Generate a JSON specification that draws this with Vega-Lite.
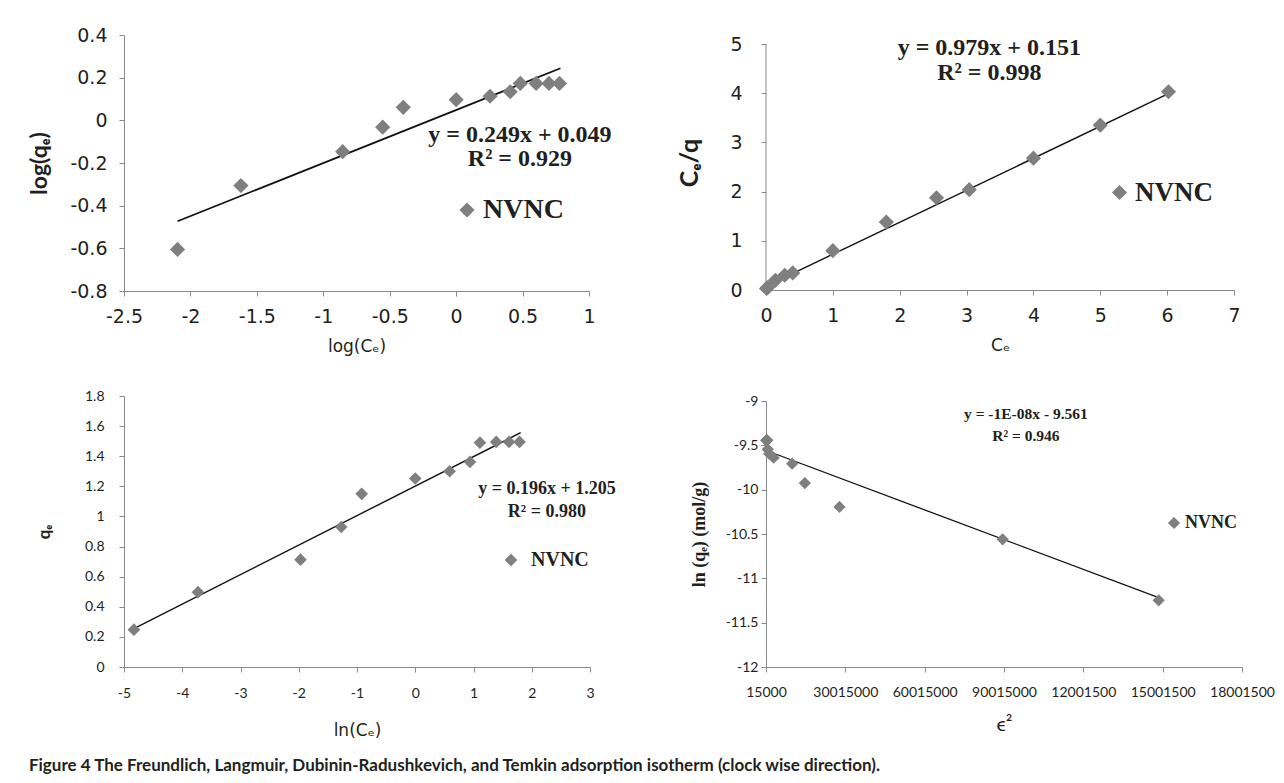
{
  "$schema": "https://vega.github.io/schema/vega-lite/v6.json",
  "background": "white",
  "padding": {"left": 28, "top": 26, "right": 5, "bottom": 5},
  "config": {
    "view": {"stroke": null},
    "axis": {"grid": false, "domainColor": "#8a8a8a", "tickColor": "#8a8a8a", "tickSize": 5, "labelColor": "#231f20", "titleColor": "#231f20", "labelFont": "Lato", "titleFont": "Lato", "labelFlush": false, "labelOverlap": false, "labelPadding": 4, "labelExpr": "'' + datum.value"},
    "legend": {"title": null, "orient": "none", "padding": 0, "symbolType": "diamond", "symbolStrokeWidth": 0, "labelFont": "Liberation Serif", "labelFontWeight": "bold", "labelColor": "#231f20", "labelOffset": 2}
  },
  "title": {"text": "Figure 4 The Freundlich, Langmuir, Dubinin-Radushkevich, and Temkin adsorption isotherm (clock wise direction).", "orient": "bottom", "anchor": "start", "frame": "bounds", "font": "Lato", "fontSize": 17, "fontWeight": "bold", "color": "#231f20", "offset": 20},
  "datasets": {
    "p1": [
      {"x": -2.097, "y": -0.605, "series": "NVNC"}, {"x": -1.62, "y": -0.306, "series": "NVNC"},
      {"x": -0.854, "y": -0.147, "series": "NVNC"}, {"x": -0.553, "y": -0.032, "series": "NVNC"},
      {"x": -0.398, "y": 0.061, "series": "NVNC"}, {"x": 0.0, "y": 0.097, "series": "NVNC"},
      {"x": 0.255, "y": 0.113, "series": "NVNC"}, {"x": 0.407, "y": 0.134, "series": "NVNC"},
      {"x": 0.483, "y": 0.173, "series": "NVNC"}, {"x": 0.602, "y": 0.173, "series": "NVNC"},
      {"x": 0.699, "y": 0.173, "series": "NVNC"}, {"x": 0.778, "y": 0.173, "series": "NVNC"}
    ],
    "p1line": [{"x": -2.097, "y": -0.473}, {"x": 0.785, "y": 0.244}],
    "p2": [
      {"x": 0.008, "y": 0.032, "series": "NVNC"}, {"x": 0.024, "y": 0.049, "series": "NVNC"},
      {"x": 0.14, "y": 0.196, "series": "NVNC"}, {"x": 0.28, "y": 0.30, "series": "NVNC"},
      {"x": 0.4, "y": 0.348, "series": "NVNC"}, {"x": 1.0, "y": 0.80, "series": "NVNC"},
      {"x": 1.8, "y": 1.38, "series": "NVNC"}, {"x": 2.55, "y": 1.875, "series": "NVNC"},
      {"x": 3.04, "y": 2.04, "series": "NVNC"}, {"x": 4.0, "y": 2.68, "series": "NVNC"},
      {"x": 5.0, "y": 3.35, "series": "NVNC"}, {"x": 6.02, "y": 4.03, "series": "NVNC"}
    ],
    "p2line": [{"x": 0.02, "y": 0.09}, {"x": 6.02, "y": 3.99}],
    "p3": [
      {"x": -4.83, "y": 0.248, "series": "NVNC"}, {"x": -3.73, "y": 0.497, "series": "NVNC"},
      {"x": -1.97, "y": 0.713, "series": "NVNC"}, {"x": -1.27, "y": 0.93, "series": "NVNC"},
      {"x": -0.92, "y": 1.15, "series": "NVNC"}, {"x": 0.0, "y": 1.252, "series": "NVNC"},
      {"x": 0.59, "y": 1.30, "series": "NVNC"}, {"x": 0.94, "y": 1.362, "series": "NVNC"},
      {"x": 1.11, "y": 1.49, "series": "NVNC"}, {"x": 1.39, "y": 1.495, "series": "NVNC"},
      {"x": 1.61, "y": 1.495, "series": "NVNC"}, {"x": 1.79, "y": 1.495, "series": "NVNC"}
    ],
    "p3line": [{"x": -4.83, "y": 0.255}, {"x": 1.81, "y": 1.556}],
    "p4": [
      {"x": 150000, "y": -9.444, "series": "NVNC"}, {"x": 200000, "y": -9.444, "series": "NVNC"},
      {"x": 310000, "y": -9.444, "series": "NVNC"}, {"x": 500000, "y": -9.444, "series": "NVNC"},
      {"x": 670000, "y": -9.545, "series": "NVNC"}, {"x": 1200000, "y": -9.594, "series": "NVNC"},
      {"x": 2900000, "y": -9.639, "series": "NVNC"}, {"x": 9900000, "y": -9.707, "series": "NVNC"},
      {"x": 14700000, "y": -9.925, "series": "NVNC"}, {"x": 27800000, "y": -10.195, "series": "NVNC"},
      {"x": 89500000, "y": -10.56, "series": "NVNC"}, {"x": 148500000, "y": -11.248, "series": "NVNC"}
    ],
    "p4line": [{"x": 600000, "y": -9.564}, {"x": 148500000, "y": -11.218}],
    "one": [{}]
  },
  "spacing": 61,
  "resolve": {"scale": {"color": "independent"}, "legend": {"color": "independent"}},
  "hconcat": [
    {
      "spacing": 35,
      "resolve": {"scale": {"color": "independent"}, "legend": {"color": "independent"}},
      "vconcat": [
        {
          "width": 465, "height": 256,
          "layer": [
            {
              "data": {"name": "p1line"},
              "mark": {"type": "line", "color": "#111111", "strokeWidth": 1.8},
              "encoding": {
                "x": {"field": "x", "type": "quantitative", "scale": {"domain": [-2.5, 1], "nice": false, "zero": false},
                      "axis": {"title": "log(Cₑ)", "values": [-2.5, -2, -1.5, -1, -0.5, 0, 0.5, 1], "tickCount": 8, "labelOverlap": false, "labelFont": "DejaVu Sans", "labelFontSize": 19, "labelPadding": 11, "titleFont": "DejaVu Sans", "titleFontSize": 17, "titleFontWeight": "normal", "titlePadding": 12}},
                "y": {"field": "y", "type": "quantitative", "scale": {"domain": [-0.8, 0.4], "nice": false, "zero": false},
                      "axis": {"title": "log(qₑ)", "values": [-0.8, -0.6, -0.4, -0.2, 0, 0.2, 0.4], "tickCount": 7, "labelOverlap": false, "labelFont": "DejaVu Sans", "labelFontSize": 19, "labelPadding": 12, "titleFontSize": 23, "titleFontWeight": "bold", "titlePadding": 18}}
              }
            },
            {
              "data": {"name": "p1"},
              "mark": {"type": "point", "shape": "diamond", "filled": true, "opacity": 1, "size": 230},
              "encoding": {
                "x": {"field": "x", "type": "quantitative"},
                "y": {"field": "y", "type": "quantitative"},
                "color": {"field": "series", "type": "nominal", "scale": {"range": ["#7f7f7f"]},
                          "legend": {"legendX": 329, "legendY": 161, "symbolSize": 230, "labelFontSize": 28}}
              }
            },
            {
              "data": {"name": "one"},
              "mark": {"type": "text", "font": "Liberation Serif", "fontWeight": "bold", "fontSize": 24, "align": "center", "baseline": "alphabetic", "lineHeight": 24, "color": "#231f20"},
              "encoding": {"x": {"datum": 0.48}, "y": {"datum": -0.1}, "text": {"value": ["y = 0.249x + 0.049", "R² = 0.929"]}}
            }
          ]
        },
        {
          "width": 466, "height": 271,
          "layer": [
            {
              "data": {"name": "p3line"},
              "mark": {"type": "line", "color": "#111111", "strokeWidth": 1.4},
              "encoding": {
                "x": {"field": "x", "type": "quantitative", "scale": {"domain": [-5, 3], "nice": false, "zero": false},
                      "axis": {"title": "ln(Cₑ)", "values": [-5, -4, -3, -2, -1, 0, 1, 2, 3], "tickCount": 9, "labelOverlap": false, "labelFontSize": 14, "labelPadding": 14, "titleFont": "DejaVu Sans", "titleFontSize": 17, "titleFontWeight": "normal", "titlePadding": 22}},
                "y": {"field": "y", "type": "quantitative", "scale": {"domain": [0, 1.8], "nice": false, "zero": false},
                      "axis": {"title": "qₑ", "values": [0, 0.2, 0.4, 0.6, 0.8, 1, 1.2, 1.4, 1.6, 1.8], "tickCount": 10, "labelOverlap": false, "labelFontSize": 14, "labelPadding": 15, "titleFontSize": 17, "titleFontWeight": "bold", "titlePadding": 31}}
              }
            },
            {
              "data": {"name": "p3"},
              "mark": {"type": "point", "shape": "diamond", "filled": true, "opacity": 1, "size": 160},
              "encoding": {
                "x": {"field": "x", "type": "quantitative"},
                "y": {"field": "y", "type": "quantitative"},
                "color": {"field": "series", "type": "nominal", "scale": {"range": ["#7f7f7f"]},
                          "legend": {"legendX": 377, "legendY": 154, "symbolSize": 160, "labelFontSize": 20, "labelOffset": 10}}
              }
            },
            {
              "data": {"name": "one"},
              "mark": {"type": "text", "font": "Liberation Serif", "fontWeight": "bold", "fontSize": 18, "align": "center", "baseline": "alphabetic", "lineHeight": 23, "color": "#231f20"},
              "encoding": {"x": {"datum": 2.26}, "y": {"datum": 1.152}, "text": {"value": ["y = 0.196x + 1.205", "R² = 0.980"]}}
            }
          ]
        }
      ]
    },
    {
      "spacing": 41,
      "resolve": {"scale": {"color": "independent"}, "legend": {"color": "independent"}},
      "vconcat": [
        {
          "width": 468, "height": 255,
          "layer": [
            {
              "data": {"name": "p2line"},
              "mark": {"type": "line", "color": "#111111", "strokeWidth": 1.4},
              "encoding": {
                "x": {"field": "x", "type": "quantitative", "scale": {"domain": [0, 7], "nice": false},
                      "axis": {"title": "Cₑ", "values": [0, 1, 2, 3, 4, 5, 6, 7], "tickCount": 8, "labelOverlap": false, "labelFont": "DejaVu Sans", "labelFontSize": 19, "labelPadding": 11, "titleFont": "DejaVu Sans", "titleFontSize": 17, "titleFontWeight": "normal", "titlePadding": 12}},
                "y": {"field": "y", "type": "quantitative", "scale": {"domain": [0, 5.183], "nice": false},
                      "axis": {"title": "Cₑ/q", "values": [0, 1, 2, 3, 4, 5], "tickCount": 6, "domain": false, "labelOverlap": false, "labelFont": "DejaVu Sans", "labelFontSize": 19, "labelPadding": 19, "titleFontSize": 25, "titleFontWeight": "bold", "titlePadding": 27}}
              }
            },
            {
              "data": {"name": "one"},
              "mark": {"type": "rule", "color": "#8a8a8a", "strokeWidth": 1},
              "encoding": {"x": {"datum": 0}, "y": {"datum": 0}, "y2": {"datum": 5}}
            },
            {
              "data": {"name": "p2"},
              "mark": {"type": "point", "shape": "diamond", "filled": true, "opacity": 1, "size": 230},
              "encoding": {
                "x": {"field": "x", "type": "quantitative"},
                "y": {"field": "y", "type": "quantitative"},
                "color": {"field": "series", "type": "nominal", "scale": {"range": ["#7f7f7f"]},
                          "legend": {"legendX": 340, "legendY": 144, "symbolSize": 230, "labelFontSize": 27}}
              }
            },
            {
              "data": {"name": "one"},
              "mark": {"type": "text", "font": "Liberation Serif", "fontWeight": "bold", "fontSize": 24, "align": "center", "baseline": "alphabetic", "lineHeight": 25, "color": "#231f20"},
              "encoding": {"x": {"datum": 3.34}, "y": {"datum": 4.78}, "text": {"value": ["y = 0.979x + 0.151", "R² = 0.998"]}}
            }
          ]
        },
        {
          "width": 476, "height": 266,
          "layer": [
            {
              "data": {"name": "p4line"},
              "mark": {"type": "line", "color": "#111111", "strokeWidth": 1.3},
              "encoding": {
                "x": {"field": "x", "type": "quantitative", "scale": {"domain": [15000, 180015000], "nice": false, "zero": false},
                      "axis": {"title": "ϵ²", "values": [15000, 30015000, 60015000, 90015000, 120015000, 150015000, 180015000], "tickCount": 7,
                               "labelExpr": "datum.value == 120015000 ? '12001500' : datum.value == 150015000 ? '15001500' : datum.value == 180015000 ? '18001500' : '' + datum.value",
                               "labelOverlap": false, "labelFontSize": 14, "labelPadding": 13, "titleFontSize": 20, "titleFontWeight": "normal", "titlePadding": 15}},
                "y": {"field": "y", "type": "quantitative", "scale": {"domain": [-12, -9], "nice": false, "zero": false},
                      "axis": {"title": "ln (qₑ) (mol/g)", "values": [-12, -11.5, -11, -10.5, -10, -9.5, -9], "tickCount": 7, "labelOverlap": false, "labelFontSize": 14, "labelPadding": 3, "titleFont": "Liberation Serif", "titleFontSize": 18, "titleFontWeight": "bold", "titlePadding": 17}}
              }
            },
            {
              "data": {"name": "p4"},
              "mark": {"type": "point", "shape": "diamond", "filled": true, "opacity": 1, "size": 150},
              "encoding": {
                "x": {"field": "x", "type": "quantitative"},
                "y": {"field": "y", "type": "quantitative"},
                "color": {"field": "series", "type": "nominal", "scale": {"range": ["#7f7f7f"]},
                          "legend": {"legendX": 399, "legendY": 113, "symbolSize": 150, "labelFontSize": 18}}
              }
            },
            {
              "data": {"name": "one"},
              "mark": {"type": "text", "font": "Liberation Serif", "fontWeight": "bold", "fontSize": 15.5, "align": "center", "baseline": "alphabetic", "lineHeight": 22, "color": "#231f20"},
              "encoding": {"x": {"datum": 98300000}, "y": {"datum": -9.206}, "text": {"value": ["y = -1E-08x - 9.561", "R² = 0.946"]}}
            }
          ]
        }
      ]
    }
  ]
}
